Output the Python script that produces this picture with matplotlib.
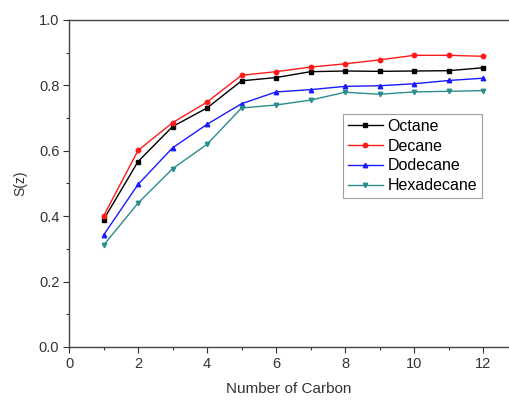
import matplotlib
matplotlib.use("Agg")
import matplotlib.pyplot as plt
from matplotlib.ticker import MultipleLocator

plt.rcParams['font.family'] = ['Liberation Sans', 'DejaVu Sans']

carbon = [1, 2, 3, 4, 5, 6, 7, 8, 9, 10, 11, 12]
octane = [0.389, 0.567, 0.674, 0.731, 0.814, 0.824, 0.842, 0.844, 0.843, 0.844, 0.845, 0.854]
decane = [0.400, 0.601, 0.686, 0.749, 0.831, 0.842, 0.856, 0.866, 0.878, 0.892, 0.892, 0.889]
dodecane = [0.342, 0.497, 0.609, 0.681, 0.744, 0.780, 0.787, 0.797, 0.799, 0.805, 0.815, 0.822]
hexadecane = [0.311, 0.440, 0.545, 0.620, 0.731, 0.740, 0.755, 0.779, 0.773, 0.780, 0.782, 0.784]

series = [
    ("Octane", octane, "black", "s"),
    ("Decane", decane, "#ff1a1a", "o"),
    ("Dodecane", dodecane, "#1a1aff", "^"),
    ("Hexadecane", hexadecane, "#2a8c8c", "v"),
]

W, H = 509, 401
fig = plt.figure(figsize=(W / 100, H / 100), dpi=100)
ax = fig.add_axes([69 / W, 1 - 347 / H, (509 - 69) / W, (347 - 20) / H])

for name, vals, col, mk in series:
    ax.plot(carbon, vals, color=col, marker=mk, markersize=3.2, linewidth=1.0,
            label=name)

ax.set_xlim(0, 12.75)
ax.set_ylim(0.0, 1.0)
ax.xaxis.set_major_locator(MultipleLocator(2))
ax.xaxis.set_minor_locator(MultipleLocator(1))
ax.yaxis.set_major_locator(MultipleLocator(0.2))
ax.yaxis.set_minor_locator(MultipleLocator(0.1))
ax.yaxis.set_major_formatter(plt.FuncFormatter(lambda v, p: f"{v:.1f}"))

ax.tick_params(which='major', direction='out', length=4.5, width=0.8,
               labelsize=10.5, colors='#333333', pad=2.5)
ax.tick_params(which='minor', direction='out', length=2.5, width=0.8,
               colors='#333333')
for side in ('left', 'bottom', 'top'):
    ax.spines[side].set_linewidth(1.0)
    ax.spines[side].set_color('#444444')
ax.spines['right'].set_visible(False)

ax.set_xlabel("Number of Carbon", fontsize=11, color='#333333', labelpad=8)
ax.set_ylabel("S(z)", fontsize=10, color='#333333', labelpad=8)

leg = fig.legend(loc='upper left', bbox_to_anchor=(343 / W, 1 - 114 / H),
                 fontsize=11.5, frameon=True, fancybox=False,
                 handlelength=2.2, handletextpad=0.3, labelspacing=0.3,
                 borderpad=0.3, borderaxespad=0)
leg.get_frame().set_edgecolor('#888888')
leg.get_frame().set_linewidth(0.8)

fig.savefig("out.png", dpi=100)
